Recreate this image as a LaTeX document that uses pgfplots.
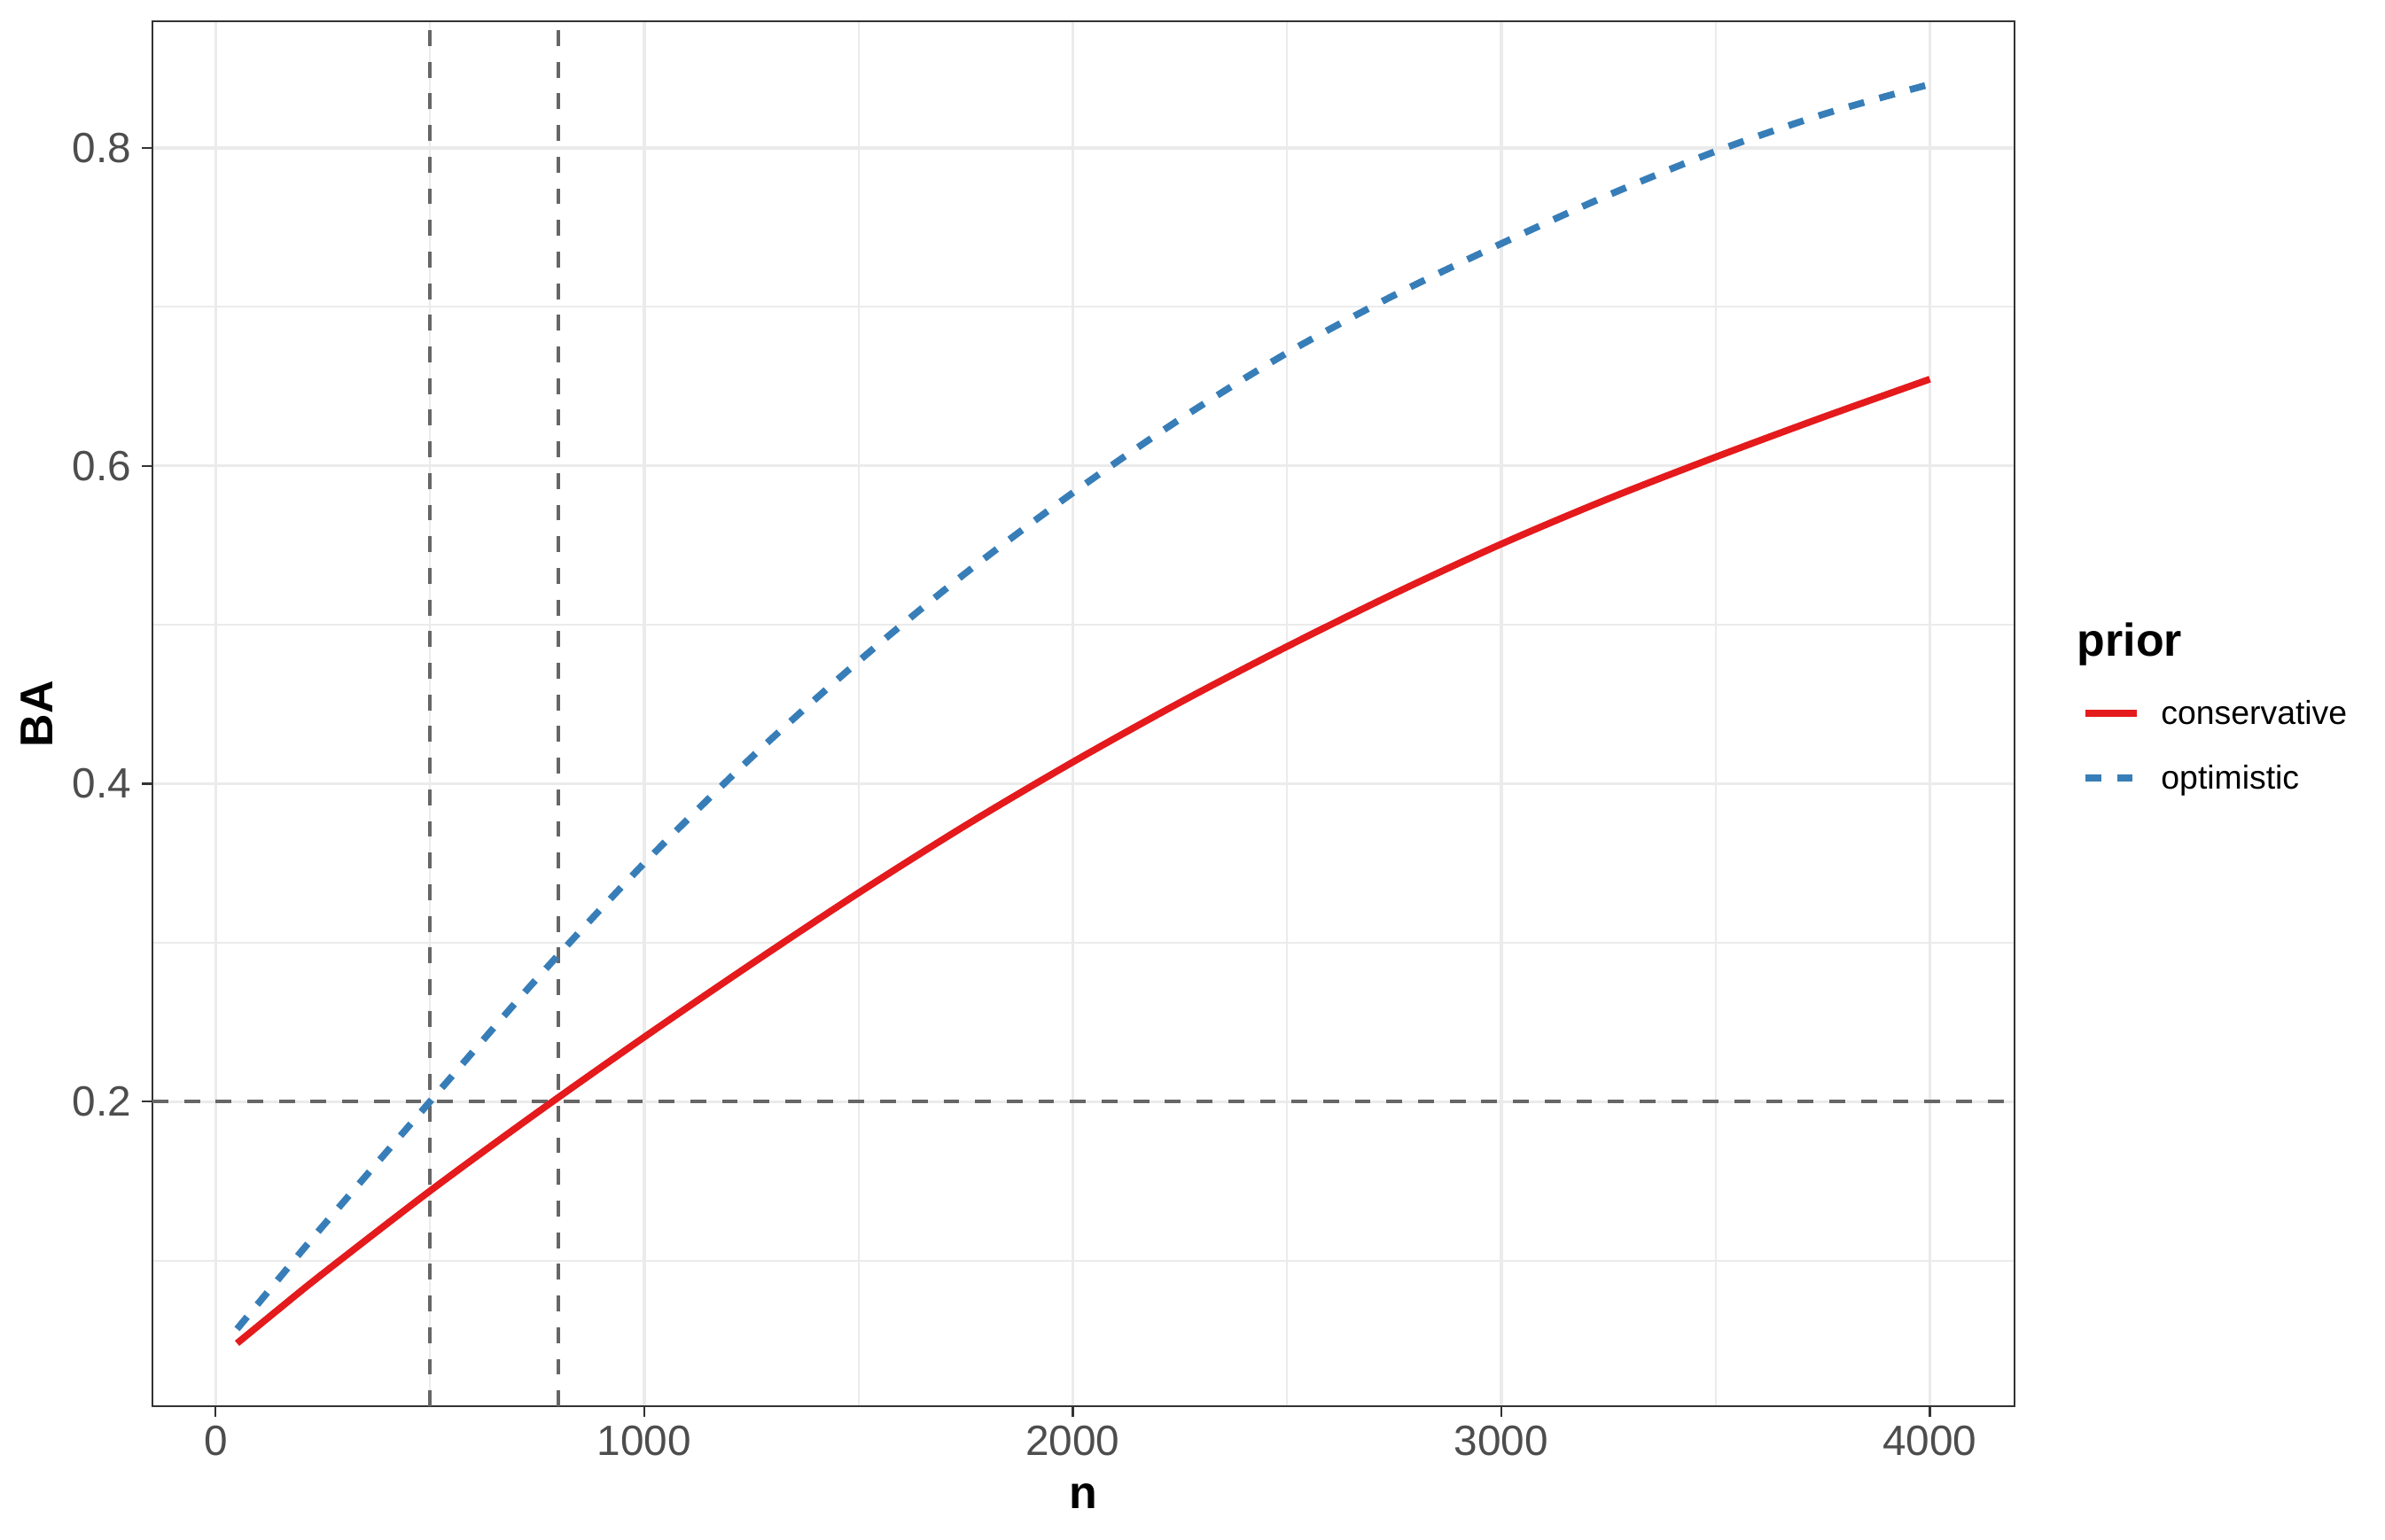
\documentclass[border=0pt]{standalone}
\usepackage{fontspec}
\setmainfont{Liberation Sans}
\usepackage{pgfplots}
\pgfplotsset{compat=1.18}
\definecolor{cons}{HTML}{E41A1C}
\definecolor{opt}{HTML}{377EB8}
\definecolor{refg}{HTML}{666666}
\definecolor{gridc}{HTML}{EBEBEB}
\definecolor{borderc}{HTML}{333333}
\definecolor{tickc}{HTML}{4D4D4D}
\begin{document}
\begin{tikzpicture}
\path[use as bounding box] (-41.43pt,-36.14pt) rectangle (606.8pt,382.3pt);
\begin{axis}[
  at={(0pt,0pt)}, anchor=south west,
  scale only axis, width=506.1pt, height=376.5pt,
  xmin=-147.5, xmax=4197.5, ymin=0.0084, ymax=0.8796,
  xtick={0,1000,2000,3000,4000}, minor xtick={500,1500,2500,3500},
  ytick={0.2,0.4,0.6,0.8}, minor ytick={0.1,0.3,0.5,0.7},
  grid=both,
  major grid style={color=gridc, line width=0.8pt},
  minor grid style={color=gridc, line width=0.45pt},
  axis line style={color=borderc, line width=0.55pt},
  tick align=outside, tick pos=left,
  major tick length=2.9pt, minor tick length=0pt,
  tick style={color=borderc, line width=0.55pt},
  scaled ticks=false,
  /pgf/number format/assume math mode=true,
  /pgf/number format/1000 sep={},
  xticklabel style={font=\fontsize{11.5}{13}\selectfont, text=tickc, inner sep=0pt, anchor=north, yshift=-2.2pt},
  yticklabel style={font=\fontsize{11.5}{13}\selectfont, text=tickc, inner sep=0pt, anchor=east, xshift=-2.6pt,
    /pgf/number format/fixed, /pgf/number format/precision=1, /pgf/number format/fixed zerofill},
  xlabel={n}, ylabel={BA},
  xlabel style={at={(0.5,-0.0741)}, anchor=base, inner sep=0pt, font=\fontsize{12.5}{14}\selectfont\bfseries},
  ylabel style={at={(-0.0534,0.5)}, anchor=base, inner sep=0pt, font=\fontsize{12.5}{14}\selectfont\bfseries},
  legend style={at={(1.0362,0.4748)}, anchor=west, draw=none, fill=none, inner sep=0pt, outer sep=0pt,
    font=\fontsize{9}{10}\selectfont, row sep=9.0pt, column sep=5.7pt,
    nodes={inner sep=0pt, text height=6.5pt, text depth=2pt}},
  legend cell align=left,
  legend image code/.code={\draw[#1] (0pt,0.85pt) -- (14pt,0.85pt);},
]
\addplot[refg, line width=1.0pt, dash pattern=on 4.3pt off 4.3pt, forget plot] coordinates {(500,0.0084) (500,0.8796)};
\addplot[refg, line width=1.0pt, dash pattern=on 4.3pt off 4.3pt, forget plot] coordinates {(800,0.0084) (800,0.8796)};
\addplot[refg, line width=1.0pt, dash pattern=on 4.3pt off 4.3pt, forget plot] coordinates {(-147.5,0.2) (4197.5,0.2)};
\addplot[cons, line width=1.85pt, smooth] coordinates {
(50,0.048) (150,0.0701) (250,0.0918) (500,0.1438) (750,0.1931) (1000,0.2406) (1250,0.2866)
(1500,0.3313) (1750,0.3738) (2000,0.4136) (2250,0.4511) (2500,0.4863) (2750,0.5196)
(3000,0.5508) (3250,0.5793) (3500,0.6055) (3750,0.6305) (4000,0.6545)};
\addlegendentry{conservative}
\addplot[opt, line width=1.85pt, dash pattern=on 4.3pt off 4.3pt, smooth] coordinates {
(50,0.057) (150,0.0895) (250,0.1217) (500,0.200) (750,0.2775) (1000,0.350) (1250,0.4165)
(1500,0.477) (1750,0.5325) (2000,0.583) (2250,0.6293) (2500,0.671) (2750,0.7073)
(3000,0.7398) (3250,0.7703) (3500,0.7978) (3750,0.821) (4000,0.840)};
\addlegendentry{optimistic}
\end{axis}
\node[anchor=base west, inner sep=0pt, font=\fontsize{12.5}{14}\selectfont\bfseries] at (523.0pt,203.9pt) {prior};
\end{tikzpicture}
\end{document}
